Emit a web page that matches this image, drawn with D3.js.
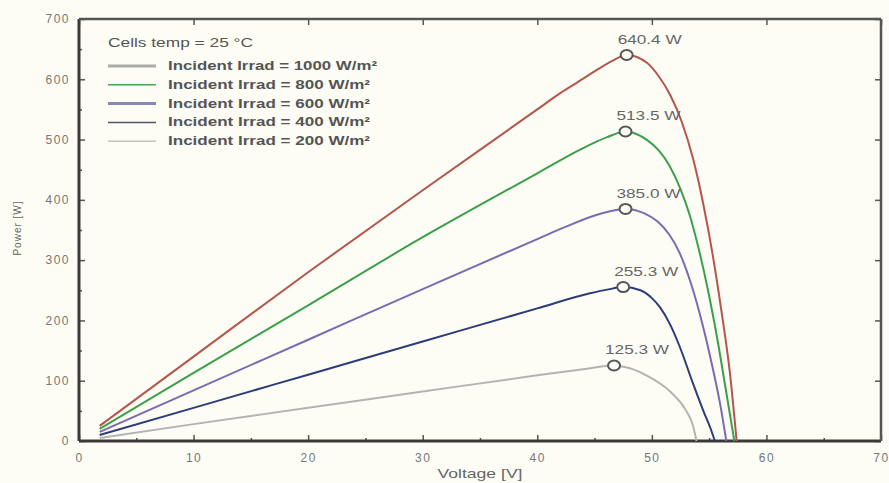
<!DOCTYPE html>
<html lang="en">
<head>
    <meta charset="utf-8">
    <title>PV power curves</title>
    <style>
        body { margin: 0; background: #fdfdf6; }
        svg { display: block; font-family: "Liberation Sans", Arial, sans-serif; }
        .curve { fill: none; stroke-width: 2px; }
    </style>
    <script src="https://d3js.org/d3.v7.min.js"></script>
</head>
<body>
<svg width="889" height="483"></svg>
<script>
    // irradiance levels (W/m2), one curve each
    var irrad = [1000, 800, 600, 400, 200];
    var colors = ["#b4564c", "#3c9f4a", "#7b6ab2", "#2c3c7a", "#b3b3b3"];
    var legendColors = ["#aaaaaa", "#45a650", "#8888b8", "#555566", "#c2c2c2"];

    // voltage / power points
    var volt1000 = [1.8, 10, 20, 30, 40, 42, 43.5, 45, 46.5, 47.8, 49.6, 50.6, 51.6, 52.6, 53.6, 54.5, 55.3, 56.1, 56.8, 57.4];
    var pow1000 = [25, 140, 280, 416, 550, 577, 595, 613, 630, 640.4, 627, 605, 574, 530, 468, 392, 310, 212, 115, 0];
    var volt800 = [1.8, 10, 20, 30, 40, 43.7, 46.1, 47.7, 49.6, 50.6, 51.5, 52.5, 53.3, 54.1, 54.9, 55.8, 56.5, 57.2];
    var pow800 = [20, 113, 225, 338, 444, 483, 504, 513.5, 499, 482, 458, 418, 375, 318, 250, 160, 80, 0];
    var volt600 = [1.8, 10, 20, 30, 40, 42.2, 45.5, 47.7, 49.3, 50.5, 51.5, 52.4, 53.4, 54.4, 55.3, 56, 56.5];
    var pow600 = [15, 84, 168, 252, 335, 353, 377, 385, 378, 364, 343, 313, 262, 195, 122, 57, 0];
    var volt400 = [1.8, 10, 20, 30, 40, 44.6, 46.2, 47.5, 49, 50, 50.7, 51.6, 52.4, 53.6, 54.6, 55.1, 55.5];
    var pow400 = [10, 55, 110, 165, 220, 245, 251.5, 255.3, 250, 237, 222, 193, 158, 95, 45, 22, 0];
    var volt200 = [1.8, 10, 20, 30, 40, 44, 46.7, 48, 49.6, 51.6, 53, 53.6, 53.9];
    var pow200 = [5, 28, 55, 82, 109, 119, 125.3, 121, 108, 82, 50, 25, 0];

    var peakVolt = [47.8, 47.7, 47.7, 47.5, 46.7];
    var peakPow = [640.4, 513.5, 385.0, 255.3, 125.3];
    var peakLabels = ["640.4 W", "513.5 W", "385.0 W", "255.3 W", "125.3 W"];

    var xTicks = [0, 10, 20, 30, 40, 50, 60, 70];
    var yTicks = [0, 100, 200, 300, 400, 500, 600, 700];

    var series = [
        { v: volt1000, p: pow1000 },
        { v: volt800, p: pow800 },
        { v: volt600, p: pow600 },
        { v: volt400, p: pow400 },
        { v: volt200, p: pow200 }
    ];

    var svg = d3.select("svg");
    var plotLeft = 79, plotRight = 881, plotTop = 19, plotBottom = 441;

    var x = d3.scaleLinear().domain([0, 70]).range([plotLeft, plotRight]);
    var y = d3.scaleLinear().domain([0, 700]).range([plotBottom, plotTop]);

    // axes, ticks pointing inward
    svg.append("g").attr("transform", "translate(0," + plotBottom + ")")
        .call(d3.axisBottom(x).tickValues(xTicks).tickSize(-6).tickSizeOuter(0).tickPadding(12));
    svg.append("g").attr("transform", "translate(" + plotLeft + ",0)")
        .call(d3.axisLeft(y).tickValues(yTicks).tickSize(-6).tickSizeOuter(0).tickPadding(9));
    svg.append("g").attr("transform", "translate(0," + plotTop + ")")
        .call(d3.axisTop(x).tickValues(xTicks).tickSize(-6).tickSizeOuter(0).tickFormat(""));
    svg.append("g").attr("transform", "translate(" + plotRight + ",0)")
        .call(d3.axisRight(y).tickValues(yTicks).tickSize(-6).tickSizeOuter(0).tickFormat(""));

    // minor ticks every 5 V / 50 W
    var minorX = d3.range(5, 70, 10);
    var minorY = d3.range(50, 700, 100);
    svg.append("g").attr("transform", "translate(0," + plotBottom + ")")
        .call(d3.axisBottom(x).tickValues(minorX).tickSize(-3).tickSizeOuter(0).tickFormat(""));
    svg.append("g").attr("transform", "translate(" + plotLeft + ",0)")
        .call(d3.axisLeft(y).tickValues(minorY).tickSize(-3).tickSizeOuter(0).tickFormat(""));

    svg.selectAll(".domain").remove();
    svg.selectAll(".tick line").attr("stroke", "#555").attr("stroke-width", 1.5);
    svg.selectAll(".tick text").attr("fill", "#777").attr("font-size", 12)
        .attr("letter-spacing", 1.5);

    // frame: thick left/bottom, lighter top/right
    svg.append("line").attr("x1", plotLeft).attr("x2", plotRight).attr("y1", plotBottom).attr("y2", plotBottom)
        .attr("stroke", "#3a3a3a").attr("stroke-width", 3);
    svg.append("line").attr("x1", plotLeft).attr("x2", plotLeft).attr("y1", plotTop).attr("y2", plotBottom)
        .attr("stroke", "#3a3a3a").attr("stroke-width", 3);
    svg.append("line").attr("x1", plotLeft).attr("x2", plotRight).attr("y1", plotTop).attr("y2", plotTop)
        .attr("stroke", "#555").attr("stroke-width", 2.5);
    svg.append("line").attr("x1", plotRight).attr("x2", plotRight).attr("y1", plotTop).attr("y2", plotBottom)
        .attr("stroke", "#555").attr("stroke-width", 2.5);

    // curves
    var line = d3.line()
        .x(function (d) { return x(d[0]); })
        .y(function (d) { return y(d[1]); })
        .curve(d3.curveMonotoneX);

    series.forEach(function (s, i) {
        var pts = s.v.map(function (v, k) { return [v, s.p[k]]; });
        svg.append("path")
            .attr("class", "curve")
            .attr("d", line(pts))
            .attr("stroke", colors[i]);
    });

    // peak markers and labels (text stretched wide like the original)
    peakVolt.forEach(function (v, i) {
        svg.append("ellipse")
            .attr("cx", x(v)).attr("cy", y(peakPow[i]))
            .attr("rx", 6).attr("ry", 5)
            .attr("fill", "#fdfdf6").attr("stroke", "#555").attr("stroke-width", 2);
        svg.append("text")
            .attr("x", x(v) - 9).attr("y", y(peakPow[i]) - 11)
            .attr("fill", "#666").attr("font-size", 13)
            .attr("textLength", 64).attr("lengthAdjust", "spacingAndGlyphs")
            .text(peakLabels[i]);
    });

    // legend
    svg.append("text").attr("x", 108).attr("y", 47)
        .attr("fill", "#555").attr("font-size", 12)
        .attr("textLength", 145).attr("lengthAdjust", "spacingAndGlyphs")
        .text("Cells temp  = 25 °C");
    irrad.forEach(function (r, i) {
        var ly = 66 + i * 18.8;
        svg.append("line")
            .attr("x1", 108).attr("x2", 156).attr("y1", ly).attr("y2", ly)
            .attr("stroke", legendColors[i]).attr("stroke-width", i == 0 || i == 2 ? 3 : 1.5);
        svg.append("text").attr("x", 168).attr("y", ly + 4)
            .attr("fill", "#555").attr("font-size", 12).attr("font-weight", "bold")
            .attr("textLength", r >= 1000 ? 209 : 202).attr("lengthAdjust", "spacingAndGlyphs")
            .text("Incident Irrad  = " + r + " W/m²");
    });

    // axis titles
    svg.append("text").attr("x", 480).attr("y", 478)
        .attr("text-anchor", "middle").attr("fill", "#666").attr("font-size", 13)
        .attr("textLength", 85).attr("lengthAdjust", "spacingAndGlyphs")
        .text("Voltage [V]");
    svg.append("text").attr("transform", "translate(21,228) rotate(-90)")
        .attr("text-anchor", "middle").attr("fill", "#666").attr("font-size", 10)
        .attr("letter-spacing", 1)
        .text("Power [W]");
</script>
</body>
</html>
